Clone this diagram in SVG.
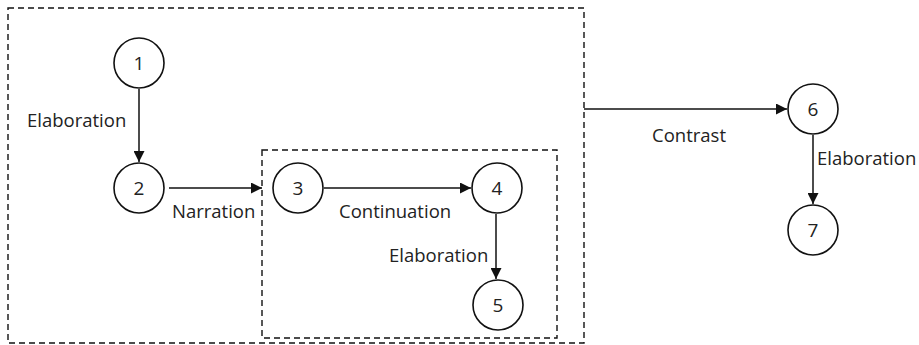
<svg xmlns="http://www.w3.org/2000/svg" width="919" height="345" viewBox="0 0 919 345">
<style>
.box{fill:none;stroke:#111;stroke-width:1.4;stroke-dasharray:6 4}
.node circle{fill:#fff;stroke:#111;stroke-width:1.6}
.node text{font-family:"Open Sans",sans-serif;font-size:19px;fill:#222;text-anchor:middle}
.lbl{font-family:"Open Sans",sans-serif;font-size:18.5px;fill:#222}
.edge{stroke:#111;stroke-width:1.5;fill:none;marker-end:url(#arr)}
</style>
<defs>
<marker id="arr" viewBox="0 0 10 10" refX="10" refY="5" markerWidth="11" markerHeight="11" markerUnits="userSpaceOnUse" orient="auto">
<path d="M0,0 L10,5 L0,10 z" fill="#111"/>
</marker>
</defs>
<rect class="box" x="8" y="8" width="576" height="335"/>
<rect class="box" x="262" y="150" width="295" height="188"/>
<g id="connectors">
<line class="edge" x1="139" y1="89" x2="139" y2="162"/>
<line class="edge" x1="169" y1="188" x2="262" y2="188"/>
<line class="edge" x1="324" y1="188" x2="471" y2="188"/>
<line class="edge" x1="496" y1="214" x2="496" y2="279"/>
<line class="edge" x1="584" y1="109" x2="787" y2="109"/>
<line class="edge" x1="813" y1="135" x2="813" y2="204"/>
<text class="lbl" x="27" y="127">Elaboration</text>
<text class="lbl" x="172" y="218">Narration</text>
<text class="lbl" x="339" y="218">Continuation</text>
<text class="lbl" x="389" y="262">Elaboration</text>
<text class="lbl" x="652" y="142">Contrast</text>
<text class="lbl" x="817" y="165">Elaboration</text>
</g>
<g id="n1" class="node"><circle cx="139" cy="63" r="25"/><text x="139" y="70">1</text></g>
<g id="n2" class="node"><circle cx="139" cy="188" r="25"/><text x="139" y="195">2</text></g>
<g id="n3" class="node"><circle cx="298" cy="188" r="25"/><text x="298" y="195">3</text></g>
<g id="n4" class="node"><circle cx="497" cy="188" r="25"/><text x="497" y="195">4</text></g>
<g id="n5" class="node"><circle cx="498" cy="305" r="25"/><text x="498" y="312">5</text></g>
<g id="n6" class="node"><circle cx="813" cy="109" r="25"/><text x="813" y="116">6</text></g>
<g id="n7" class="node"><circle cx="813" cy="230" r="25"/><text x="813" y="237">7</text></g>
</svg>
